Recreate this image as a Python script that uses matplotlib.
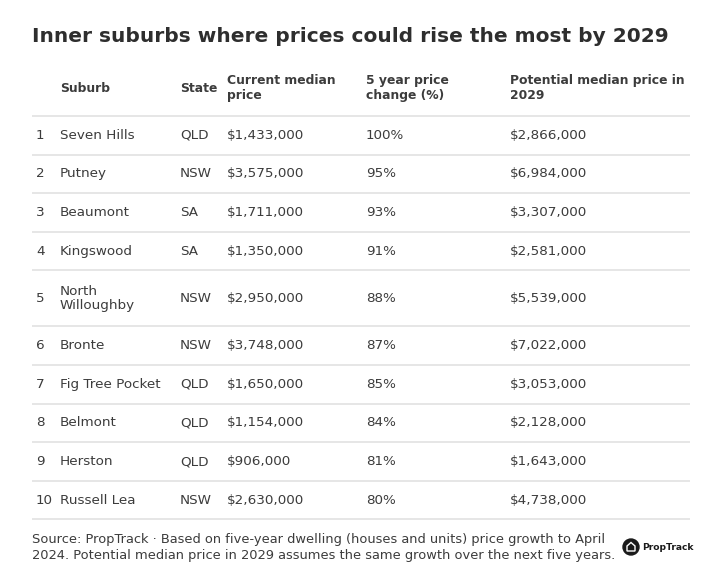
import matplotlib.pyplot as plt
from matplotlib.patches import Circle, Polygon

ranks = [1, 2, 3, 4, 5, 6, 7, 8, 9, 10]
suburbs = ["Seven Hills", "Putney", "Beaumont", "Kingswood", "North\nWilloughby",
           "Bronte", "Fig Tree Pocket", "Belmont", "Herston", "Russell Lea"]
states = ["QLD", "NSW", "SA", "SA", "NSW", "NSW", "QLD", "QLD", "QLD", "NSW"]
current_price = [1433000, 3575000, 1711000, 1350000, 2950000,
                 3748000, 1650000, 1154000, 906000, 2630000]
change_pct = [100, 95, 93, 91, 88, 87, 85, 84, 81, 80]
potential_price = [2866000, 6984000, 3307000, 2581000, 5539000,
                   7022000, 3053000, 2128000, 1643000, 4738000]
headers = ["Suburb", "State", "Current median\nprice", "5 year price\nchange (%)",
           "Potential median price in\n2029"]

title = "Inner suburbs where prices could rise the most by 2029"
source = ("Source: PropTrack \u00b7 Based on five-year dwelling (houses and units) price growth to April\n"
          "2024. Potential median price in 2029 assumes the same growth over the next five years.")

plt.rcParams['font.family'] = ['DejaVu Sans']
txt = '#3c3c3c'
line_c = '#e2e2e2'

fig = plt.figure(figsize=(7.04, 5.76), dpi=100)
ax = fig.add_axes([0, 0, 1, 1])
ax.set_xlim(0, 704)
ax.set_ylim(576, 0)
ax.axis('off')

ax.text(32, 36, title, fontsize=14.5, fontweight='bold', color='#2e2e2e', va='center')

cols = [60, 180, 227, 366, 510]
for x, h in zip(cols, headers):
    ax.text(x, 88, h, fontsize=8.9, fontweight='bold', color=txt, va='center', linespacing=1.15)

y = 116
ax.hlines(y, 32, 690, color=line_c, lw=1.2)
for i in range(len(ranks)):
    hgt = 56 if "\n" in suburbs[i] else 38.6
    yc = y + hgt / 2
    row = [suburbs[i], states[i], f"${current_price[i]:,}", f"{change_pct[i]}%",
           f"${potential_price[i]:,}"]
    ax.text(36, yc, str(ranks[i]), fontsize=9.7, color=txt, va='center')
    for x, s in zip(cols, row):
        ax.text(x, yc, s, fontsize=9.7, color=txt, va='center', linespacing=1.15)
    y += hgt
    ax.hlines(y, 32, 690, color=line_c, lw=1.2)

ax.text(32, 548, source, fontsize=9.4, color=txt, va='center', linespacing=1.3)

# PropTrack logo
ax.add_patch(Circle((631, 547), 8, color='#1a1a1a'))
ax.add_patch(Polygon([[627, 551], [627, 546], [631, 542.5], [635, 546], [635, 551]],
                     closed=True, fill=False, ec='white', lw=1))
ax.text(642, 547, "PropTrack", fontsize=6.6, fontweight='bold', color='#1a1a1a', va='center')

fig.savefig('out.png', dpi=100, facecolor='white')
